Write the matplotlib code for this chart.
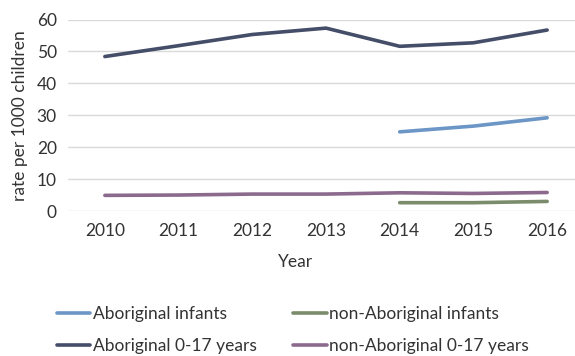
import matplotlib
matplotlib.use("Agg")
import matplotlib.pyplot as plt

plt.rcParams['font.family'] = ['Lato', 'DejaVu Sans']

years = ['2010', '2011', '2012', '2013', '2014', '2015', '2016']
ab_infants = [None, None, None, None, 24.8, 26.6, 29.2]
nonab_infants = [None, None, None, None, 2.6, 2.6, 3.0]
ab_0_17 = [48.4, 51.8, 55.3, 57.3, 51.6, 52.7, 56.7]
nonab_0_17 = [4.9, 5.0, 5.3, 5.3, 5.7, 5.5, 5.8]

series = [
    ('Aboriginal infants', ab_infants, '#6B96C6'),
    ('Aboriginal 0-17 years', ab_0_17, '#444E69'),
    ('non-Aboriginal infants', nonab_infants, '#7B8C6C'),
    ('non-Aboriginal 0-17 years', nonab_0_17, '#8C6A8E'),
]

W, H = 575, 356
fs = 12.5
txt = '#333333'
fig = plt.figure(figsize=(W / 100, H / 100), dpi=100)
ax = fig.add_axes([68 / W, (H - 211) / H, (584 - 68) / W, (211 - 19.5) / H])

x = list(range(len(years)))
for name, vals, col in series:
    xs = [i for i, v in zip(x, vals) if v is not None]
    ys = [v for v in vals if v is not None]
    ax.plot(xs, ys, color=col, lw=2.6, label=name, solid_capstyle='round')

ax.set_xlim(-0.5, 6.5)
ax.set_ylim(0, 60)
ax.set_yticks(range(0, 61, 10))
ax.set_xticks(x)
ax.set_xticklabels(years)
ax.grid(axis='y', color='#D9D9D9', lw=1)
ax.set_axisbelow(True)
for s in ax.spines.values():
    s.set_visible(False)
ax.tick_params(length=0, labelsize=fs, colors=txt, pad=9)
ax.tick_params(axis='y', pad=8)
ax.set_ylabel('rate per 1000 children', fontsize=fs, color=txt, labelpad=6)
ax.set_xlabel('Year', fontsize=fs, color=txt)
ax.xaxis.set_label_coords((296 - 68) / (584 - 68), -(254 - 211) / (211 - 19.5))
ax.xaxis.label.set_va('top')

handles, labels = ax.get_legend_handles_labels()
fig.legend(handles, labels, ncol=2, loc='center left',
           bbox_to_anchor=(41 / W, 1 - 330 / H), frameon=False,
           fontsize=fs, labelcolor=txt, handlelength=1.95,
           handletextpad=0.12, columnspacing=2.1, labelspacing=0.95)

fig.savefig('out.png', dpi=100)
